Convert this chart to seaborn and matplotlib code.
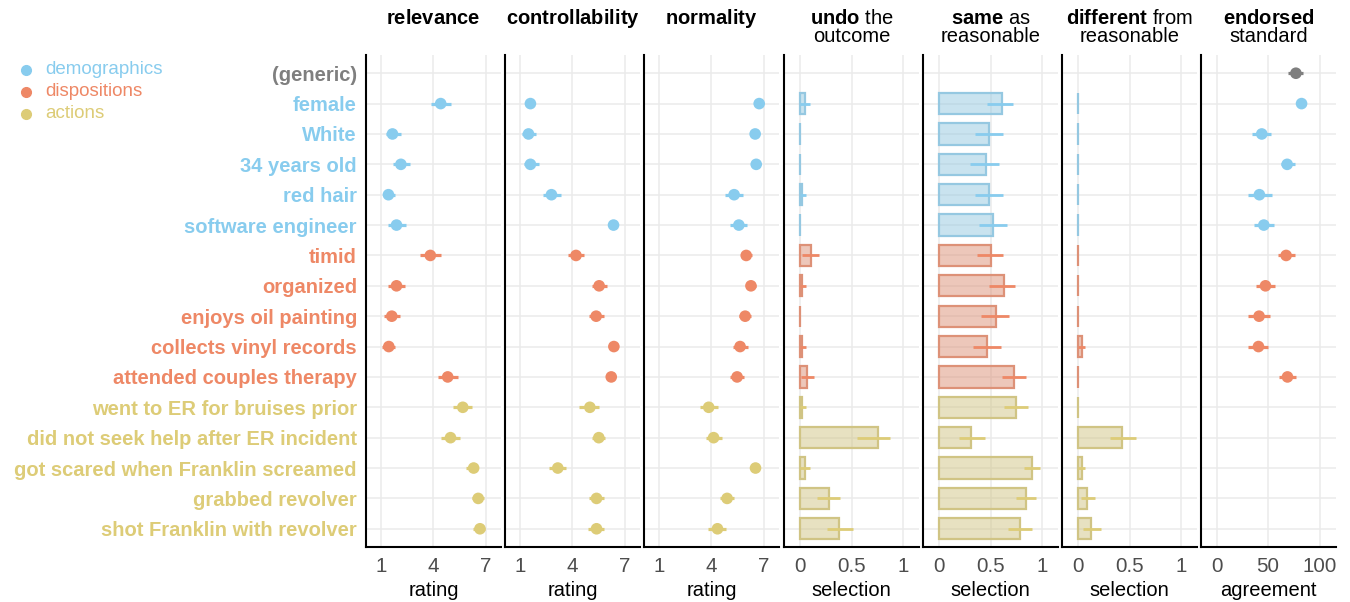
import numpy as np
import pandas as pd
import matplotlib
matplotlib.use("Agg")
import matplotlib.pyplot as plt
from matplotlib.lines import Line2D
import seaborn as sns

nan = np.nan

# ---------------- data ----------------
items = ["(generic)", "female", "White", "34 years old", "red hair", "software engineer",
         "timid", "organized", "enjoys oil painting", "collects vinyl records",
         "attended couples therapy", "went to ER for bruises prior",
         "did not seek help after ER incident", "got scared when Franklin screamed",
         "grabbed revolver", "shot Franklin with revolver"]
groups = ["generic"] + ["demographics"] * 5 + ["dispositions"] * 5 + ["actions"] * 5
legend_groups = ["demographics", "dispositions", "actions"]

relevance_mean = [nan, 4.42, 1.67, 2.15, 1.44, 1.90, 3.83, 1.90, 1.63, 1.46, 4.82, 5.68, 4.98, 6.30, 6.56, 6.66]
relevance_lo = [nan, 3.87, 1.32, 1.69, 1.11, 1.44, 3.25, 1.44, 1.19, 1.07, 4.25, 5.13, 4.44, 5.89, 6.18, 6.26]
relevance_hi = [nan, 5.02, 2.15, 2.68, 1.82, 2.43, 4.44, 2.39, 2.11, 1.84, 5.42, 6.18, 5.51, 6.56, 6.89, 6.93]

control_mean = [nan, 1.61, 1.50, 1.61, 2.81, 6.35, 4.21, 5.53, 5.36, 6.37, 6.22, 5.00, 5.51, 3.17, 5.38, 5.38]
control_lo = [nan, 1.32, 1.15, 1.27, 2.35, 6.17, 3.74, 5.13, 4.96, 6.19, 6.02, 4.37, 5.10, 2.68, 4.96, 4.90]
control_hi = [nan, 1.80, 1.90, 2.09, 3.38, 6.52, 4.67, 5.95, 5.80, 6.53, 6.40, 5.51, 5.89, 3.64, 5.80, 5.82]

normal_mean = [nan, 6.73, 6.50, 6.56, 5.30, 5.57, 5.99, 6.26, 5.93, 5.64, 5.47, 3.85, 4.13, 6.52, 4.90, 4.35]
normal_lo = [nan, 6.56, 6.33, 6.39, 4.78, 5.09, 5.72, 6.00, 5.59, 5.24, 5.05, 3.33, 3.67, 6.35, 4.49, 3.83]
normal_hi = [nan, 6.89, 6.67, 6.73, 5.80, 6.01, 6.31, 6.53, 6.24, 6.07, 5.85, 4.40, 4.59, 6.69, 5.32, 4.82]

undo_mean = [nan, 0.04, 0.0, 0.0, 0.02, 0.0, 0.10, 0.02, 0.0, 0.02, 0.06, 0.02, 0.76, 0.04, 0.28, 0.38]
undo_lo = [nan, 0.0, 0.0, 0.0, 0.0, 0.0, 0.02, 0.0, 0.0, 0.0, 0.006, 0.0, 0.55, 0.0, 0.16, 0.26]
undo_hi = [nan, 0.098, 0.0, 0.0, 0.05, 0.0, 0.18, 0.05, 0.0, 0.05, 0.13, 0.05, 0.87, 0.09, 0.39, 0.51]

same_mean = [nan, 0.605, 0.482, 0.45, 0.482, 0.524, 0.505, 0.625, 0.547, 0.466, 0.727, 0.746, 0.307, 0.905, 0.847, 0.785]
same_lo = [nan, 0.466, 0.346, 0.30, 0.346, 0.385, 0.365, 0.485, 0.404, 0.326, 0.605, 0.625, 0.186, 0.824, 0.742, 0.664]
same_hi = [nan, 0.717, 0.62, 0.58, 0.62, 0.66, 0.62, 0.74, 0.678, 0.60, 0.84, 0.859, 0.44, 0.977, 0.937, 0.90]

diff_mean = [nan, 0.0, 0.0, 0.0, 0.0, 0.0, 0.0, 0.0, 0.0, 0.03, 0.0, 0.0, 0.426, 0.03, 0.084, 0.127]
diff_lo = [nan, 0.0, 0.0, 0.0, 0.0, 0.0, 0.0, 0.0, 0.0, 0.0, 0.0, 0.0, 0.306, 0.0, 0.025, 0.045]
diff_hi = [nan, 0.0, 0.0, 0.0, 0.0, 0.0, 0.0, 0.0, 0.0, 0.06, 0.0, 0.0, 0.557, 0.06, 0.16, 0.218]

endorse_mean = [77.0, 82.5, 43.8, 68.5, 41.5, 45.8, 67.5, 47.4, 41.2, 40.6, 68.8, nan, nan, nan, nan, nan]
endorse_lo = [69.8, 78.0, 34.1, 62.3, 30.8, 36.1, 59.7, 38.6, 30.8, 30.8, 60.7, nan, nan, nan, nan, nan]
endorse_hi = [83.8, 87.0, 52.9, 76.3, 53.6, 55.6, 76.0, 57.1, 51.9, 49.7, 77.0, nan, nan, nan, nan, nan]

palette = {"generic": "#7F7F7F", "demographics": "#88CCEE",
           "dispositions": "#EE8866", "actions": "#DDCC77"}

# panel specs: (title line1, title line2, kind, mean, lo, hi, axis label)
panels = [
    (r"$\mathbf{relevance}$", "", "point", relevance_mean, relevance_lo, relevance_hi, "rating"),
    (r"$\mathbf{controllability}$", "", "point", control_mean, control_lo, control_hi, "rating"),
    (r"$\mathbf{normality}$", "", "point", normal_mean, normal_lo, normal_hi, "rating"),
    (r"$\mathbf{undo}$ the", "outcome", "bar", undo_mean, undo_lo, undo_hi, "selection"),
    (r"$\mathbf{same}$ as", "reasonable", "bar", same_mean, same_lo, same_hi, "selection"),
    (r"$\mathbf{different}$ from", "reasonable", "bar", diff_mean, diff_lo, diff_hi, "selection"),
    (r"$\mathbf{endorsed}$", "standard", "point", endorse_mean, endorse_lo, endorse_hi, "agreement"),
]
scales = {
    "rating": ([1, 4, 7], ["1", "4", "7"], (0.16, 7.86)),
    "selection": ([0, 0.5, 1], ["0", "0.5", "1"], (-0.16, 1.155)),
    "agreement": ([0, 50, 100], ["0", "50", "100"], (-15.3, 116)),
}

# ---------------- style ----------------
sns.set_theme(style="white")
plt.rcParams["font.family"] = ["Liberation Sans", "DejaVu Sans"]
plt.rcParams["mathtext.fontset"] = "custom"
plt.rcParams["mathtext.rm"] = "Liberation Sans"
plt.rcParams["mathtext.it"] = "Liberation Sans:italic"
plt.rcParams["mathtext.bf"] = "Liberation Sans:bold"

W, H = 1350, 602
fig = plt.figure(figsize=(W / 100, H / 100), dpi=100)

lefts = [366, 505, 644, 784, 923, 1062, 1201]
ax_w = 135
ax_top, ax_bot = 55, 547

pos = np.arange(len(items))
for i, (t1, t2, kind, m, lo, hi, xlabel) in enumerate(panels):
    ax = fig.add_axes([lefts[i] / W, 1 - ax_bot / H, ax_w / W, (ax_bot - ax_top) / H])
    df = pd.DataFrame({"item": items, "group": groups, "pos": pos,
                       "mean": m, "lo": lo, "hi": hi}).dropna()
    if kind == "bar":
        sns.barplot(data=df, x="mean", y="item", order=items, hue="group",
                    palette=palette, dodge=False, width=0.7, orient="h",
                    errorbar=None, legend=False, ax=ax)
        for p in ax.patches:
            r, g, b, _ = p.get_facecolor()
            p.set_facecolor((r, g, b, 0.5))
            p.set_edgecolor((r, g, b, 1.0))
            p.set_linewidth(1.6)
            p.set_zorder(2)
        ax.hlines(df["pos"], df["lo"], df["hi"],
                  colors=[palette[g] for g in df["group"]], lw=2, zorder=3)
    else:
        ax.hlines(df["pos"], df["lo"], df["hi"],
                  colors=[palette[g] for g in df["group"]], lw=2.3, zorder=3)
        sns.scatterplot(data=df, x="mean", y="pos", hue="group", palette=palette,
                        s=70, edgecolor="none", legend=False, ax=ax, zorder=4)

    ticks, labels, lim = scales[xlabel]
    ax.set_xlim(*lim)
    ax.set_xticks(ticks)
    ax.set_xticklabels(labels)
    ax.set_ylim(len(items) - 0.4, -0.6)
    ax.set_yticks(pos)
    if i == 0:
        ax.set_yticklabels(items, fontsize=14.5, fontweight="bold")
        for lab, g in zip(ax.get_yticklabels(), groups):
            lab.set_color(palette[g])
    else:
        ax.set_yticklabels([])
    ax.tick_params(axis="y", length=0, pad=6.5)
    ax.tick_params(axis="x", length=2.5, width=0.8, color="#333333", pad=5.0,
                   labelsize=14.8, labelcolor="#4D4D4D")
    ax.set_xlabel(xlabel, fontsize=14.5, color="black", labelpad=3.2)
    ax.set_ylabel("")
    ax.grid(True, color="#EBEBEB", lw=1.1)
    ax.set_axisbelow(True)
    for s in ["top", "right"]:
        ax.spines[s].set_visible(False)
    for s in ["left", "bottom"]:
        ax.spines[s].set_color("black")
        ax.spines[s].set_linewidth(1.5)

    xc = (lefts[i] + ax_w / 2) / W
    fig.text(xc, 1 - 18 / H, t1, ha="center", va="center", fontsize=14.5, color="black")
    if t2:
        fig.text(xc, 1 - 36.5 / H, t2, ha="center", va="center", fontsize=14.5, color="black")

# legend
for k, g in enumerate(legend_groups):
    y = 1 - (70 + 22 * k) / H
    fig.add_artist(Line2D([26 / W], [y], marker="o", markersize=7, color=palette[g],
                          linestyle="none", transform=fig.transFigure))
    fig.text(45 / W, y, g, ha="left", va="center", fontsize=13.5, color=palette[g])

fig.savefig("out.png", dpi=100)
